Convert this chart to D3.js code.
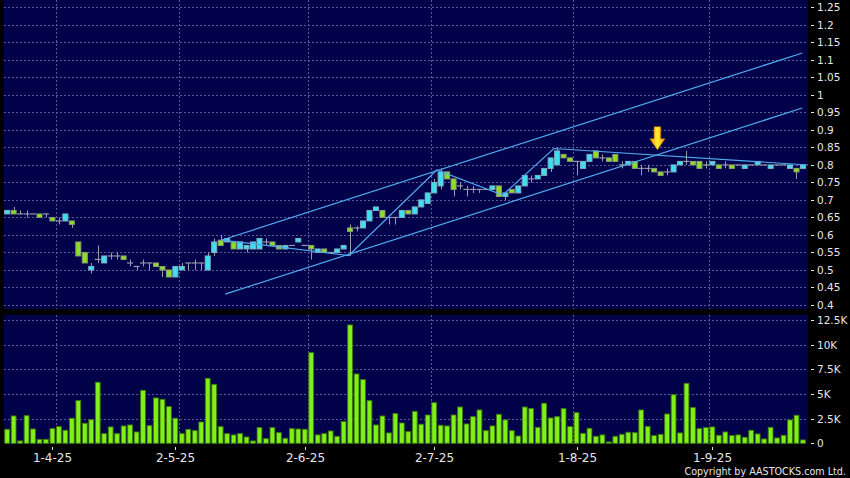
<!DOCTYPE html>
<html><head><meta charset="utf-8">
<script src="https://cdn.jsdelivr.net/npm/d3@7/dist/d3.min.js"></script>
<style>html,body{margin:0;padding:0;background:#000;}svg{display:block}</style>
</head><body>
<svg id="c" width="850" height="478"></svg>
<script>
// ---- data (index = trading day) ----
const openP  = [.66,.67,.66,.66,.66,.66,.66,.65,.64,.64,.64,.58,.55,.50,.53,.52,.54,.54,.54,.52,.51,.52,.52,.52,.51,.50,.48,.50,.52,.52,.52,.50,
                .55,.585,.58,.58,.56,.56,.56,.56,.58,.58,.57,.56,.57,.58,.57,.57,.55,.56,.55,.55,.56,.62,.62,.62,.64,.67,.67,.65,.65,.65,.67,.66,
                .68,.69,.72,.74,.78,.76,.74,.73,.73,.73,.73,.73,.74,.71,.73,.72,.74,.76,.76,.77,.79,.80,.83,.82,.81,.79,.81,.84,.82,.82,.83,.80,
                .80,.81,.79,.79,.79,.78,.78,.78,.80,.81,.81,.81,.80,.80,.80,.80,.80,.80,.79,.80,.80,.80,.79,.80,.80,.79,.79,.79];
const highP  = [.67,.68,.67,.67,.66,.66,.66,.65,.65,.66,.64,.58,.55,.52,.57,.54,.55,.55,.54,.53,.51,.53,.52,.52,.51,.50,.51,.52,.52,.53,.52,.55,
                .59,.60,.59,.58,.58,.57,.58,.59,.59,.58,.57,.57,.57,.59,.57,.57,.56,.56,.55,.56,.57,.63,.625,.64,.67,.68,.67,.65,.65,.67,.67,.68,
                .70,.72,.76,.79,.78,.76,.75,.74,.74,.73,.73,.74,.74,.72,.73,.74,.77,.77,.77,.79,.82,.85,.83,.82,.81,.81,.83,.84,.83,.82,.83,.81,
                .81,.81,.80,.80,.79,.78,.79,.80,.81,.84,.81,.81,.81,.81,.80,.81,.80,.80,.80,.80,.81,.80,.80,.80,.80,.80,.79,.80];
const lowP   = [.66,.66,.66,.65,.66,.65,.65,.64,.63,.64,.62,.54,.52,.49,.52,.52,.53,.53,.53,.51,.50,.51,.50,.51,.48,.48,.48,.50,.50,.50,.50,.50,
                .54,.57,.58,.56,.56,.55,.56,.56,.57,.57,.56,.56,.57,.58,.57,.53,.55,.55,.55,.55,.56,.54,.61,.62,.64,.67,.65,.63,.63,.65,.66,.66,
                .68,.69,.72,.73,.76,.71,.73,.71,.72,.72,.73,.73,.71,.70,.72,.72,.74,.75,.76,.77,.78,.80,.82,.81,.77,.79,.81,.82,.81,.81,.81,.79,
                .80,.79,.77,.78,.78,.77,.77,.78,.80,.80,.80,.79,.79,.80,.79,.79,.79,.80,.79,.80,.80,.80,.79,.80,.80,.79,.76,.79];
const closeP = [.67,.66,.66,.66,.66,.65,.66,.64,.64,.66,.63,.54,.52,.51,.53,.54,.54,.54,.53,.52,.51,.52,.52,.51,.50,.48,.51,.51,.52,.52,.52,.54,
                .58,.57,.59,.56,.58,.57,.58,.59,.58,.57,.56,.57,.57,.59,.57,.56,.56,.55,.55,.56,.57,.61,.62,.64,.67,.68,.65,.65,.65,.67,.66,.68,
                .70,.72,.75,.78,.76,.73,.74,.73,.73,.73,.73,.74,.71,.72,.72,.74,.77,.76,.77,.79,.82,.84,.82,.81,.81,.81,.83,.82,.82,.81,.81,.80,
                .81,.79,.79,.79,.78,.77,.78,.80,.81,.81,.80,.79,.80,.81,.79,.80,.79,.80,.80,.80,.81,.80,.80,.80,.80,.80,.78,.80];
const volumeK = [1.42,2.77,0.24,2.80,1.45,0.40,0.40,1.49,1.69,1.32,2.54,4.33,2.03,2.40,6.19,0.98,1.66,0.98,1.76,1.86,1.15,5.37,1.79,4.60,4.46,3.72,2.54,0.98,1.42,1.28,2.16,6.59,
                 5.98,1.69,0.98,0.85,0.98,0.64,0.24,1.59,0.47,1.59,1.08,0.51,1.49,1.45,1.42,9.19,0.85,0.98,1.25,0.71,2.20,12.0,7.03,6.46,4.33,1.86,2.77,1.05,3.01,2.06,1.18,3.24,
                 1.93,2.87,4.12,1.83,1.76,2.87,3.68,1.96,2.70,3.38,1.28,1.76,2.94,2.37,1.28,0.74,3.68,3.52,1.62,4.06,2.57,2.70,3.52,1.69,3.11,1.01,1.52,0.71,0.85,0.14,0.71,0.91,
                 1.12,1.08,3.38,1.72,0.78,0.91,2.97,4.93,1.05,6.08,3.62,1.49,1.59,1.66,0.81,1.15,0.78,0.85,0.61,1.32,0.95,0.44,1.62,0.54,0.81,2.37,2.84,0.34];
const xTickIndex  = [7, 26, 46, 66, 88, 109];
const xTickLabels = ["1-4-25","2-5-25","2-6-25","2-7-25","1-8-25","1-9-25"];
const xGridIndex  = [7.5, 26.5, 46.5, 65.5, 87.5, 108.5];
const priceTicks  = [0.4,0.45,0.5,0.55,0.6,0.65,0.7,0.75,0.8,0.85,0.9,0.95,1,1.05,1.1,1.15,1.2,1.25];
const volTicks    = [0, 2.5, 5, 7.5, 10, 12.5];
const volTickLabels = ["0","2.5K","5K","7.5K","10K","12.5K"];
// trend lines (index, price)
const channelUpper = [[33.2,0.5855],[122.9,1.1195]];
const channelLower = [[33.7,0.431],[122.9,0.9625]];
const zigzag = [[33.2,0.5855],[52.8,0.5413],[66.4,0.7854],[76.6,0.714],[84.5,0.8468],[123.8,0.7997]];
const arrowPoint = [100.5, 0.843];

// ---- layout ----
const svg = d3.select("#c");
const W = 850, H = 478;
const L = 4, R = 808;
const pTop = 0, pBot = 309, vTop = 315, vBot = 444;
const x = d3.scaleLinear().domain([0, 1]).range([7.15, 13.62]);
const y = d3.scaleLinear().domain([0.4, 1.25]).range([305, 7.3]);
const yv = d3.scaleLinear().domain([0, 12.5]).range([443.3, 320]);
const navy = "#02024a", grid = "#5a5a96", txt = "#e6e6e6";

svg.append("rect").attr("width", W).attr("height", H).attr("fill", "#000");
svg.append("rect").attr("x", L).attr("y", pTop).attr("width", R - L).attr("height", pBot - pTop).attr("fill", navy);
svg.append("rect").attr("x", L).attr("y", vTop).attr("width", R - L).attr("height", vBot - vTop).attr("fill", navy);

const gGrid = svg.append("g").attr("stroke", grid).attr("stroke-width", 1).attr("stroke-dasharray", "2,2").attr("shape-rendering", "crispEdges");
priceTicks.forEach(t => gGrid.append("line").attr("x1", L).attr("x2", R).attr("y1", Math.round(y(t)) + 0.5).attr("y2", Math.round(y(t)) + 0.5));
volTicks.slice(1).forEach(t => gGrid.append("line").attr("x1", L).attr("x2", R).attr("y1", Math.round(yv(t)) + 0.5).attr("y2", Math.round(yv(t)) + 0.5));
xGridIndex.forEach(g => {
  const gx = Math.round(x(g)) + 0.5;
  gGrid.append("line").attr("x1", gx).attr("x2", gx).attr("y1", pTop).attr("y2", pBot);
  gGrid.append("line").attr("x1", gx).attr("x2", gx).attr("y1", vTop).attr("y2", vBot);
});

// ---- volume bars ----
svg.append("g").selectAll("rect").data(volumeK).join("rect")
  .attr("x", (d, i) => x(i) - 2.4).attr("width", 4.8)
  .attr("y", d => yv(d)).attr("height", d => Math.max(0.5, yv(0) - yv(d)))
  .attr("fill", "#80f018").attr("stroke", "#3d7a0c").attr("stroke-width", 0.9);

// ---- candles ----
const candles = openP.map((o, i) => ({i, o, h: highP[i], l: lowP[i], c: closeP[i]}));
const gC = svg.append("g");
gC.selectAll("line.w").data(candles).join("line").attr("class", "w")
  .attr("x1", d => Math.round(x(d.i)) + 0.5).attr("x2", d => Math.round(x(d.i)) + 0.5)
  .attr("y1", d => y(d.h)).attr("y2", d => y(d.l))
  .attr("stroke", "#9a9aaa").attr("stroke-width", 1);
gC.selectAll("line.d").data(candles.filter(d => d.o === d.c)).join("line").attr("class", "d")
  .attr("x1", d => x(d.i) - 3).attr("x2", d => x(d.i) + 3)
  .attr("y1", d => y(d.c)).attr("y2", d => y(d.c))
  .attr("stroke", "#9a9aaa").attr("stroke-width", 1.2);
gC.selectAll("rect").data(candles.filter(d => d.o !== d.c)).join("rect")
  .attr("x", d => x(d.i) - 2.5).attr("width", 5)
  .attr("y", d => y(Math.max(d.o, d.c))).attr("height", d => Math.abs(y(d.o) - y(d.c)))
  .attr("fill", d => d.c > d.o ? "#3ce0f2" : "#8ce024")
  .attr("stroke", d => d.c > d.o ? "#7fb0c0" : "#8c9a78").attr("stroke-width", 1);

// ---- trend lines ----
const line = d3.line().x(d => x(d[0])).y(d => y(d[1]));
const gT = svg.append("g").attr("fill", "none").attr("stroke", "#52aaee").attr("stroke-width", 1.2);
[channelUpper, channelLower, zigzag].forEach(pts => gT.append("path").attr("d", line(pts)));

// ---- arrow annotation ----
const defs = svg.append("defs");
const gr = defs.append("linearGradient").attr("id", "ag").attr("x1", "0").attr("x2", "1").attr("y1", "0").attr("y2", "0");
gr.append("stop").attr("offset", "0").attr("stop-color", "#ff9a00");
gr.append("stop").attr("offset", "0.5").attr("stop-color", "#ffee30");
gr.append("stop").attr("offset", "1").attr("stop-color", "#ff9a00");
const ax = x(arrowPoint[0]), ay = y(arrowPoint[1]);
svg.append("path")
  .attr("d", `M${ax},${ay} L${ax - 7.5},${ay - 11} L${ax - 3.3},${ay - 11} L${ax - 3.3},${ay - 23} L${ax + 3.3},${ay - 23} L${ax + 3.3},${ay - 11} L${ax + 7.5},${ay - 11} Z`)
  .attr("fill", "url(#ag)").attr("stroke", "#d07a00").attr("stroke-width", 0.6);

// ---- right axes ----
const fontFam = "DejaVu Sans, Verdana, sans-serif";
const gY = svg.append("g").attr("font-family", fontFam).attr("font-size", 10.5).attr("fill", txt);
priceTicks.forEach(t => {
  const yy = Math.round(y(t)) + 0.5;
  gY.append("line").attr("x1", 811).attr("x2", 814).attr("y1", yy).attr("y2", yy).attr("stroke", txt);
  gY.append("text").attr("x", 817).attr("y", yy).attr("dy", "0.36em").text(String(+t.toFixed(2)));
});
volTicks.forEach((t, k) => {
  const yy = Math.round(yv(t)) + 0.5;
  gY.append("line").attr("x1", 811).attr("x2", 814).attr("y1", yy).attr("y2", yy).attr("stroke", txt);
  gY.append("text").attr("x", 817).attr("y", yy).attr("dy", "0.36em").text(volTickLabels[k]);
});

// ---- x axis ----
const gX = svg.append("g").attr("font-family", fontFam).attr("font-size", 12).attr("fill", txt).attr("text-anchor", "middle");
xTickIndex.forEach((t, k) => {
  const xx = Math.round(x(t)) + 0.5;
  gX.append("line").attr("x1", xx).attr("x2", xx).attr("y1", 447).attr("y2", 450).attr("stroke", txt);
  gX.append("text").attr("x", xx).attr("y", 462).text(xTickLabels[k]);
});
svg.append("text").attr("x", 846).attr("y", 475).attr("text-anchor", "end")
  .attr("font-family", fontFam).attr("font-size", 9.6).attr("fill", txt).text("Copyright by AASTOCKS.com Ltd.");
</script>
</body></html>
